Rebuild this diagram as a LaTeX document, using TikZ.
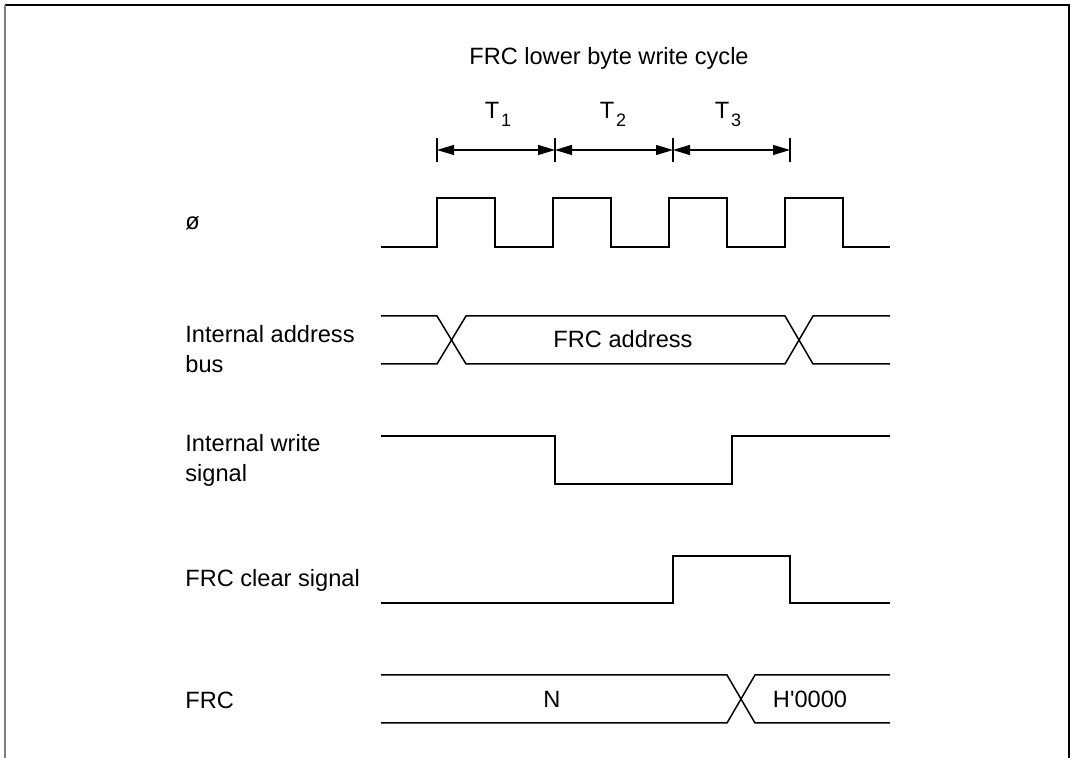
\documentclass[tikz,border=0pt]{standalone}
\usepackage{fontspec}
\setmainfont{Liberation Sans}
\usetikzlibrary{arrows.meta, positioning}

\newcommand{\tsub}[1]{T\kern0.8pt\raisebox{-4pt}{\fontsize{9pt}{9pt}\selectfont #1}}

\begin{document}
\begin{tikzpicture}[
    x=0.5pt, y=-0.5pt,
    font=\fontsize{11.8pt}{15pt}\selectfont,
    wave/.style={line width=0.75pt, line join=miter},
    dim/.style={line width=0.6pt, {Triangle[length=8.5pt,width=5pt]}-{Triangle[length=8.5pt,width=5pt]}},
    dimtick/.style={line width=0.6pt},
    lbl/.style={anchor=base west, align=left, inner sep=0pt},
    val/.style={anchor=base, inner sep=0pt}
]
\useasboundingbox (0,0) rectangle (1073,758);

% -- FRAME --
\draw[line width=0.9pt] (5,5) -- (1069,5) -- (1069,758);
\draw[line width=0.9pt, gray] (5,5) -- (5,758);

% -- TITLE AND STATES --
\node[val] (title) at (609,65) {FRC lower byte write cycle};
\coordinate (k0) at (437,150);
\coordinate (k1) at (555,150);
\coordinate (k2) at (673,150);
\coordinate (k3) at (790,150);
\foreach \k in {k0,k1,k2,k3}
    \draw[dimtick] (\k) ++(0,-12) -- ++(0,24);
\foreach \a/\b in {k0/k1, k1/k2, k2/k3}
    \draw[dim] (\a) -- (\b);
\node[val] (t1) at (498,119) {\tsub{1}};
\node[val] (t2) at (613,119) {\tsub{2}};
\node[val] (t3) at (728,119) {\tsub{3}};

% -- SIGNAL NAMES (base = last line) --
\node[lbl] (phi) at (185,230) {ø};
\node[lbl] (addr) at (185,373) {Internal address\\bus};
\node[lbl] (wr) at (185,482) {Internal write\\signal};
\node[lbl] (clr) at (185,587) {FRC clear signal};
\node[lbl] (frc) at (185,709) {FRC};

% -- CLOCK --
\draw[wave] (381,247) \foreach \x in {437,553,669,785} { -| (\x,198) -| (\x+58,247) } -- (890,247);

% -- ADDRESS BUS --
\draw[wave] (381,316) -- (437,316) -- (466,364) -- (785,364) -- (813,316) -- (890,316);
\draw[wave] (381,364) -- (437,364) -- (466,316) -- (785,316) -- (813,364) -- (890,364);
\node[val] (addrval) at (623,348) {FRC address};

% -- WRITE / CLEAR --
\draw[wave] (381,436) -| (555,484) -| (732,436) -- (890,436);
\draw[wave] (381,603) -| (673,556) -| (790,603) -- (890,603);

% -- FRC VALUE --
\draw[wave] (381,675) -- (727,675) -- (755,723) -- (890,723);
\draw[wave] (381,723) -- (727,723) -- (755,675) -- (890,675);
\node[val] (nval) at (552,708) {N};
\node[val] (hval) at (810,708) {H\textquotesingle0000};

\end{tikzpicture}
\end{document}
